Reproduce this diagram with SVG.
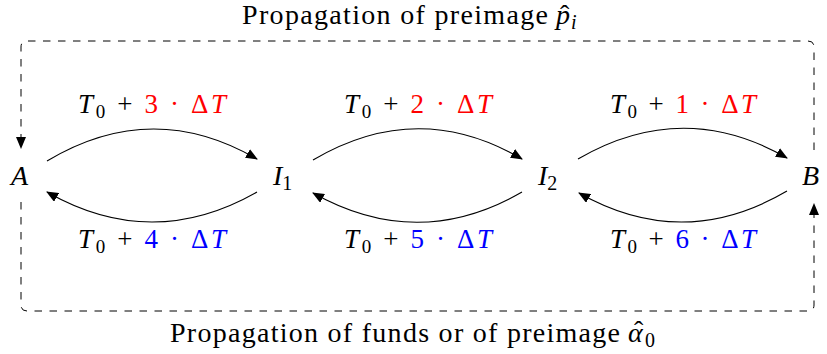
<svg xmlns="http://www.w3.org/2000/svg" width="827" height="354" viewBox="0 0 827 354">
<defs>
<marker id="ah" viewBox="0 0 12 10" refX="11" refY="5" markerWidth="12" markerHeight="10" markerUnits="userSpaceOnUse" orient="auto">
<path d="M0,0 L12,5 L0,10 Z" fill="#000"/>
</marker>
</defs>
<rect width="827" height="354" fill="#fff"/>

<g id="connectors" fill="none" stroke="#000" stroke-width="1.1">
<path d="M47,161 Q152,98 257,159" marker-end="url(#ah)"/>
<path d="M257,192 Q152,252 47,192" marker-end="url(#ah)"/>
<path d="M313,160 Q418,98 522,159" marker-end="url(#ah)"/>
<path d="M522,192 Q418,252 313,193" marker-end="url(#ah)"/>
<path d="M578,159 Q683,98 787,158" marker-end="url(#ah)"/>
<path d="M787,191 Q683,252 579,193" marker-end="url(#ah)"/>
<path stroke-width="1" stroke-dasharray="7.5 7.5" d="M814,150 V47 Q814,41 808,41 H27 Q21,41 21,47 V148" marker-end="url(#ah)"/>
<path stroke-width="1" stroke-dasharray="7.5 7.5" d="M21,202 V305 Q21,311 27,311 H808 Q814,311 814,305 V204" marker-end="url(#ah)"/>
</g>

<g id="node-A"><text font-family="Liberation Serif" font-size="28" font-style="italic" x="11" y="185">A</text></g>
<g id="node-I1"><text font-family="Liberation Serif" font-size="28" x="273" y="185"><tspan font-style="italic">I</tspan><tspan font-size="20" dy="5">1</tspan></text></g>
<g id="node-I2"><text font-family="Liberation Serif" font-size="28" x="538" y="185"><tspan font-style="italic">I</tspan><tspan font-size="20" dy="5">2</tspan></text></g>
<g id="node-B"><text font-family="Liberation Serif" font-size="28" font-style="italic" x="802" y="185">B</text></g>

<g id="labels">
<text font-family="Liberation Serif" font-size="27" x="78" y="113" textLength="148" lengthAdjust="spacing"><tspan font-style="italic">T</tspan><tspan font-size="19" dy="5">0</tspan><tspan dy="-5"> + </tspan><tspan fill="#ff0000">3 · Δ</tspan><tspan fill="#ff0000" font-style="italic">T</tspan></text>
<text font-family="Liberation Serif" font-size="27" x="344" y="113" textLength="148" lengthAdjust="spacing"><tspan font-style="italic">T</tspan><tspan font-size="19" dy="5">0</tspan><tspan dy="-5"> + </tspan><tspan fill="#ff0000">2 · Δ</tspan><tspan fill="#ff0000" font-style="italic">T</tspan></text>
<text font-family="Liberation Serif" font-size="27" x="610" y="113" textLength="146" lengthAdjust="spacing"><tspan font-style="italic">T</tspan><tspan font-size="19" dy="5">0</tspan><tspan dy="-5"> + </tspan><tspan fill="#ff0000">1 · Δ</tspan><tspan fill="#ff0000" font-style="italic">T</tspan></text>
<text font-family="Liberation Serif" font-size="27" x="78" y="248" textLength="148" lengthAdjust="spacing"><tspan font-style="italic">T</tspan><tspan font-size="19" dy="5">0</tspan><tspan dy="-5"> + </tspan><tspan fill="#0000ff">4 · Δ</tspan><tspan fill="#0000ff" font-style="italic">T</tspan></text>
<text font-family="Liberation Serif" font-size="27" x="344" y="248" textLength="148" lengthAdjust="spacing"><tspan font-style="italic">T</tspan><tspan font-size="19" dy="5">0</tspan><tspan dy="-5"> + </tspan><tspan fill="#0000ff">5 · Δ</tspan><tspan fill="#0000ff" font-style="italic">T</tspan></text>
<text font-family="Liberation Serif" font-size="27" x="610" y="248" textLength="146" lengthAdjust="spacing"><tspan font-style="italic">T</tspan><tspan font-size="19" dy="5">0</tspan><tspan dy="-5"> + </tspan><tspan fill="#0000ff">6 · Δ</tspan><tspan fill="#0000ff" font-style="italic">T</tspan></text>
</g>

<g id="titles">
<text font-family="Liberation Serif" font-size="28" x="242" y="24" textLength="306" lengthAdjust="spacing">Propagation of preimage</text>
<text font-family="Liberation Serif" font-size="28"><tspan font-style="italic" x="556" y="24">p</tspan><tspan x="560" y="24">ˆ</tspan><tspan font-style="italic" font-size="20" x="571" y="29">i</tspan></text>
<text font-family="Liberation Serif" font-size="28" x="170" y="342" textLength="450" lengthAdjust="spacing">Propagation of funds or of preimage</text>
<text font-family="Liberation Serif" font-size="28"><tspan font-style="italic" x="628" y="342">α</tspan><tspan x="634" y="340">ˆ</tspan><tspan font-size="20" x="645" y="347">0</tspan></text>
</g>
</svg>
